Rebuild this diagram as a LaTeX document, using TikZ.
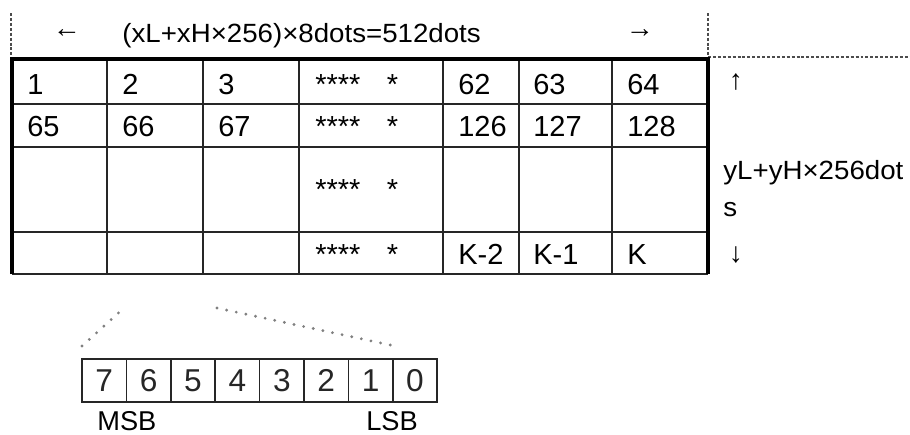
\documentclass[tikz,border=0pt]{standalone}
\usepackage{fontspec}
\setmainfont{Liberation Sans}
\usetikzlibrary{calc,positioning}

\begin{document}
\begin{tikzpicture}[x=0.02cm,y=-0.02cm,
	thinline/.style={line width=0.8pt,black!85},
	frame/.style={line width=2.6pt,black},
	guide/.style={line width=0.6pt,black!70,dash pattern=on 1.7pt off 1.1pt},
	dotline/.style={line width=1.8pt,black!50,line cap=round,dash pattern=on 0pt off 5.6pt},
	cell/.style={anchor=base west,inner sep=0pt,font=\fontsize{16.5}{18}\selectfont},
	toptext/.style={inner sep=0pt,xscale=1.05,font=\fontsize{15}{17}\selectfont},
	sidetext/.style={anchor=base west,inner sep=0pt,xscale=1.05,font=\fontsize{15}{17}\selectfont},
	arrowtext/.style={inner sep=0pt,font=\fontsize{16}{18}\selectfont},
	bitcell/.style={draw,thinline,minimum width=0.888cm,minimum height=0.86cm,inner sep=0pt,font=\fontsize{18}{20}\selectfont},
	bitname/.style={anchor=base west,inner sep=0pt,font=\fontsize{15.5}{17}\selectfont}]
	\useasboundingbox (0,0) rectangle (910,434);
	% width guides
	\draw[guide] (11,13) -- (11,58);
	\draw[guide] (708,13) -- (708,58);
	\draw[guide] (708,57) -- (910,57);
	\node[arrowtext] (larrow) at (67,34) {←};
	\node[toptext,anchor=base west] (width) at (122,42) {(xL+xH×256)×8dots=512dots};
	\node[arrowtext] (rarrow) at (640,34) {→};
	% table
	\foreach \x in {107,203,299,443,519,612} \draw[thinline] (\x,58) -- (\x,274);
	\foreach \y in {104,147,232,274} \draw[thinline] (12,\y) -- (708,\y);
	\draw[frame] (12,274) -- (12,59) -- (708,59) -- (708,274);
	\foreach \x/\t [count=\c] in {27/1,122/2,218/3,315/{****\hspace{15pt}*},458/62,533/63,627/64}
		\node[cell] (ra\c) at (\x,94) {\t};
	\foreach \x/\t [count=\c] in {27/65,122/66,218/67,315/{****\hspace{15pt}*},458/126,533/127,627/128}
		\node[cell] (rb\c) at (\x,136) {\t};
	\node[cell] (rc4) at (315,199) {****\hspace{15pt}*};
	\node[cell] (rd4) at (315,264) {****\hspace{15pt}*};
	\foreach \x/\t [count=\c from 5] in {458/K-2,533/K-1,627/K}
		\node[cell] (rd\c) at (\x,264) {\t};
	% height
	\node[arrowtext] (uarrow) at (736,82) {↑};
	\node[sidetext] (height) at (723,179) {yL+yH×256dot};
	\node[sidetext] (heights) at (723,216) {s};
	\node[arrowtext] (darrow) at (736,255) {↓};
	% one byte
	\foreach \b [count=\i from 0] in {7,6,5,4,3,2,1,0}
		\node[bitcell] (bit\b) at ({104.2+44.4*\i},380.5) {\b};
	\node[bitname] (msb) at (97,430) {MSB};
	\node[bitname] (lsb) at (366,430) {LSB};
	\draw[dotline] (82,346) -- (125,307);
	\draw[dotline] (217,308) -- (395,346);
\end{tikzpicture}
\end{document}
